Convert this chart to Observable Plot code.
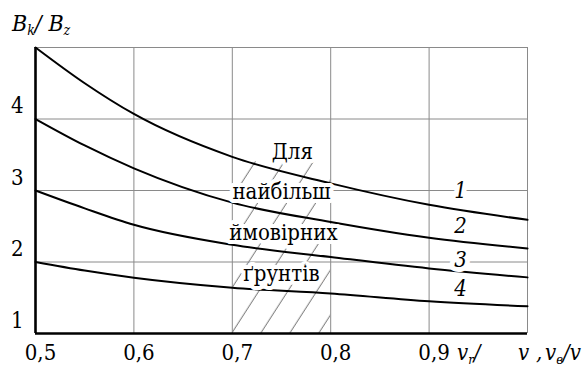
<!DOCTYPE html>
<html><head><meta charset="utf-8">
<script src="https://cdn.jsdelivr.net/npm/d3@7"></script>
<script src="https://cdn.jsdelivr.net/npm/@observablehq/plot@0.6"></script>
<style>
body{margin:0;background:#fff;}
#chart{position:relative;width:582px;height:369px;}
</style></head><body><div id="chart"></div>
<script>
// ---- data ----
const xValues = [0.5, 0.55, 0.6, 0.7, 0.8, 0.9, 1.0];
const curve1 = [5.0, 4.50, 4.07, 3.47, 3.10, 2.80, 2.59];
const curve2 = [4.0, 3.63, 3.31, 2.83, 2.56, 2.34, 2.19];
const curve3 = [3.0, 2.75, 2.52, 2.24, 2.07, 1.91, 1.785];
const curve4 = [2.0, 1.88, 1.78, 1.64, 1.56, 1.45, 1.38];
const curveNames = ["1", "2", "3", "4"];
const curveLabelX = [0.932, 0.932, 0.932, 0.932];
const curveLabelY = [2.99, 2.51, 2.03, 1.63];
const xTicks = [0.5, 0.6, 0.7, 0.8, 0.9];
const yTicks = [1, 2, 3, 4];
const xGrid = [0.6, 0.7, 0.8, 0.9, 1.0];
const yGrid = [2, 3, 4, 5];
const zoneX = [0.7, 0.8];
const zoneY = [1, 3.4];
const zoneText = ["Для", "найбільш", "ймовірних", "ґрунтів"];
const zoneTextX = [0.761, 0.75, 0.752, 0.75];
const zoneTextY = [3.54, 2.98, 2.40, 1.83];

const serif = "DejaVu Serif Condensed, DejaVu Serif, serif";
const fs = 22;
const curves = [curve1, curve2, curve3, curve4];
const rows = curves.flatMap((c, i) => c.map((v, j) => ({x: xValues[j], y: v, curve: curveNames[i]})));
const labels = curveNames.map((n, i) => ({x: curveLabelX[i], y: curveLabelY[i], t: n}));
const zoneRows = zoneText.map((t, i) => ({x: zoneTextX[i], y: zoneTextY[i], t}));
const zone = [{x1: zoneX[0], x2: zoneX[1], y1: zoneY[0], y2: zoneY[1]}];

const chart = Plot.plot({
  width: 582, height: 369,
  marginLeft: 35, marginRight: 55, marginTop: 47, marginBottom: 36,
  x: {domain: [0.5, 1.0]},
  y: {domain: [1, 5]},
  style: {fontFamily: serif, fontSize: fs + "px", background: "white", color: "black", overflow: "visible"},
  marks: [
    Plot.rect(zone, {x1: "x1", x2: "x2", y1: "y1", y2: "y2", fill: "url(#hatch)"}),
    Plot.ruleX(xGrid, {stroke: "#8a8a8a", strokeWidth: 1}),
    Plot.ruleY(yGrid, {stroke: "#8a8a8a", strokeWidth: 1}),
    Plot.line(rows, {x: "x", y: "y", z: "curve", stroke: "black", strokeWidth: 2, curve: "monotone-x"}),
    Plot.ruleX([0.5], {stroke: "black", strokeWidth: 2.6}),
    Plot.ruleY([1], {stroke: "black", strokeWidth: 2.6}),
    Plot.axisX({ticks: xTicks, tickSize: 0, tickPadding: 11, dx: 5, fontSize: fs, fontFamily: serif,
      tickFormat: d => String(d).replace(".", ","), label: null}),
    Plot.axisY({ticks: yTicks, tickSize: 0, tickPadding: 12, dy: -13, fontSize: fs, fontFamily: serif,
      tickFormat: d => String(d), label: null}),
    Plot.text(zoneRows, {x: "x", y: "y", text: "t", fill: "black", stroke: "white", strokeWidth: 8,
      fontSize: fs, fontFamily: serif}),
    Plot.text(labels, {x: "x", y: "y", text: "t", fill: "black", stroke: "white", strokeWidth: 10,
      fontSize: fs, fontFamily: serif, fontStyle: "italic"})
  ]
});

const svg = d3.select(chart);
const sx = chart.scale("x"), sy = chart.scale("y");
const px0 = sx.apply(zoneX[0]), py0 = sy.apply(zoneY[0]);
const pat = svg.insert("defs", ":first-child").append("pattern")
  .attr("id", "hatch").attr("patternUnits", "userSpaceOnUse")
  .attr("width", 29).attr("height", 45).attr("x", px0).attr("y", py0);
pat.append("path").attr("d", "M0,45L29,0M-29,45L0,0M29,45L58,0")
  .attr("stroke", "#555").attr("stroke-width", 0.9).attr("fill", "none");

// axis titles with subscripts
const yt = svg.append("text").attr("x", 12).attr("y", 31).attr("text-anchor", "start")
  .attr("font-family", serif).attr("font-style", "italic").attr("font-size", 23).attr("fill", "black");
yt.append("tspan").text("B");
yt.append("tspan").attr("font-size", 14).attr("dy", 4).text("k");
yt.append("tspan").attr("dy", -4).text("/ B");
yt.append("tspan").attr("font-size", 14).attr("dy", 4).text("z");

const xt = svg.append("text").attr("y", 360).attr("text-anchor", "start")
  .attr("font-family", serif).attr("font-style", "italic").attr("font-size", 22).attr("fill", "black");
xt.append("tspan").attr("x", 457).text("v");
xt.append("tspan").attr("font-size", 13).attr("dy", 4).text("r");
xt.append("tspan").attr("dy", -4).text("/");
xt.append("tspan").attr("x", 518).text("v");
xt.append("tspan").attr("x", 536).text(",");
xt.append("tspan").attr("x", 545).text("v");
xt.append("tspan").attr("font-size", 13).attr("dy", 4).text("в");
xt.append("tspan").attr("dy", -4).text("/v");

document.getElementById("chart").appendChild(chart);
</script>
</body></html>
